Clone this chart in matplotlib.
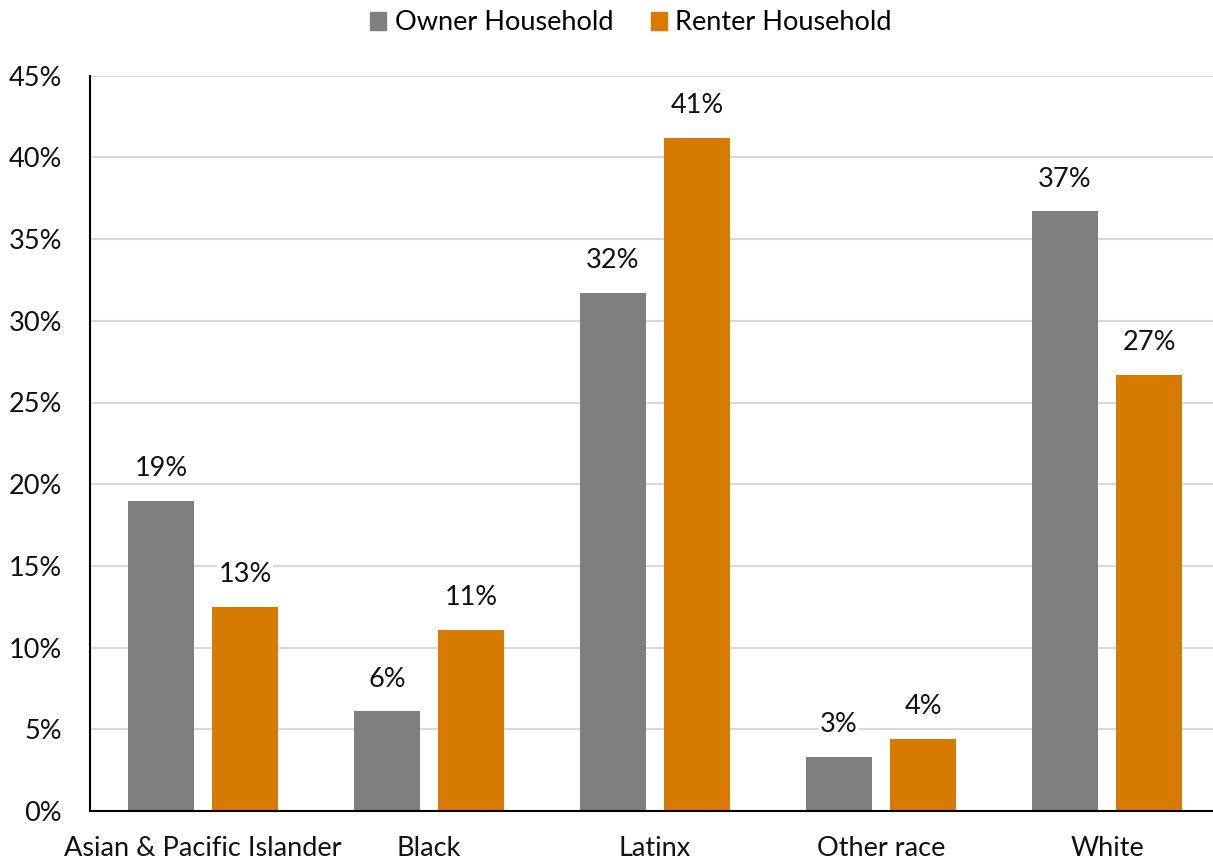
import matplotlib.pyplot as plt
import numpy as np
from matplotlib.patches import Patch

plt.rcParams['font.family'] = ['Lato', 'DejaVu Sans']

categories = ["Asian & Pacific Islander", "Black", "Latinx", "Other race", "White"]
owner = [19.0, 6.1, 31.7, 3.3, 36.7]
renter = [12.5, 11.1, 41.2, 4.4, 26.7]
owner_labels = ["19%", "6%", "32%", "3%", "37%"]
renter_labels = ["13%", "11%", "41%", "4%", "27%"]

gray = "#7F7F7F"
orange = "#D67A00"
fs = 19.5

fig = plt.figure(figsize=(12.13, 8.6), dpi=100)
ax = fig.add_axes([90 / 1213, 49 / 860, 1130 / 1213, 735.3 / 860])

x = np.arange(len(categories))
w = 0.296
off = 0.186
b1 = ax.bar(x - off, owner, w, color=gray, zorder=2)
b2 = ax.bar(x + off, renter, w, color=orange, zorder=2)

for bars, labels in ((b1, owner_labels), (b2, renter_labels)):
    for b, lab in zip(bars, labels):
        ax.text(b.get_x() + b.get_width() / 2, b.get_height() + 1.2, lab,
                ha="center", va="bottom", fontsize=fs, color="#111111", zorder=3,
                bbox=dict(facecolor="white", edgecolor="none", pad=1))

ax.set_xlim(-0.5, 4.5)
ax.set_ylim(0, 45)
ax.set_yticks(range(0, 46, 5))
ax.set_yticklabels([f"{v}%" for v in range(0, 46, 5)])
ax.set_xticks(x)
ax.set_xticklabels(categories)
ax.tick_params(axis="both", length=0, labelsize=fs, colors="#111111")
ax.tick_params(axis="y", pad=20)
ax.tick_params(axis="x", pad=18)
ax.yaxis.grid(True, color="#D9D9D9", linewidth=1.5, zorder=0)
ax.set_axisbelow(True)
for s in ["top", "right"]:
    ax.spines[s].set_visible(False)
ax.spines["left"].set_linewidth(1.5)
ax.spines["bottom"].set_linewidth(1.5)

handles = [Patch(color=gray, label="Owner Household"),
           Patch(color=orange, label="Renter Household")]
fig.legend(handles=handles, loc="center", bbox_to_anchor=(631 / 1213, 1 - 23 / 860),
           ncol=2, frameon=False, fontsize=fs, handlelength=0.6, handleheight=0.6,
           handletextpad=0.3, columnspacing=1.4)

fig.savefig("out.png", dpi=100)
